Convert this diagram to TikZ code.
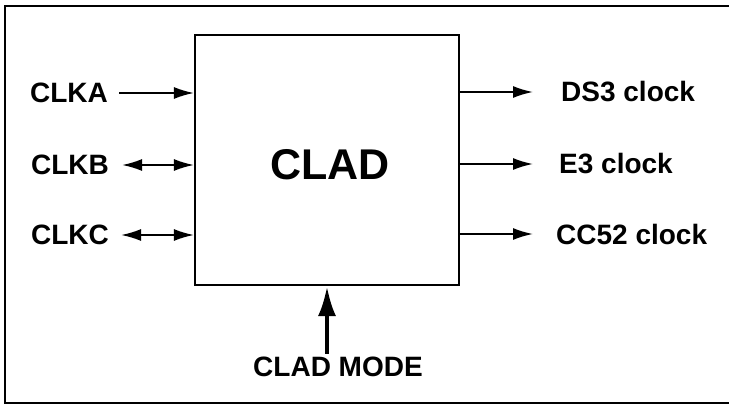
\documentclass[tikz,border=0pt]{standalone}
\usepackage{fontspec}
\setmainfont{Liberation Sans}
\usepackage{tikz}
\usetikzlibrary{arrows.meta}

\begin{document}
\begin{tikzpicture}
    [x=1pt,y=-1pt,
    frame/.style={black,line width=2.5pt},
    block/.style={draw,black,line width=2.2pt,minimum width=264pt,minimum height=250pt,inner sep=0pt},
    label/.style={font=\fontsize{28}{32}\selectfont\bfseries,inner sep=0pt},
    signal/.style={-{Latex[length=20pt,width=12pt]},black,line width=1.8pt},
    bisignal/.style={{Latex[length=20pt,width=12pt]}-{Latex[length=20pt,width=12pt]},black,line width=1.8pt},
    mode/.style={-{Latex[length=30pt,width=18pt]},black,line width=4pt}]

\useasboundingbox (0,0) rectangle (729,406);

%outer frame
\draw[frame] (729,6) -- (5,6) -- (5,403) -- (729,403);

%block
\node[block] (clad) at (327,160) {};
\node[font=\fontsize{43}{48}\selectfont\bfseries] (cladtext) at (330,165) {CLAD};

%inputs
\node[label] (clka) at (69,93) {CLKA};
\node[label] (clkb) at (70,165) {CLKB};
\node[label] (clkc) at (70,235) {CLKC};
\draw[signal] (clka.east) ++(11,0) coordinate (clkaout) -- (clkaout -| clad.west);
\draw[bisignal] (clkb.east) ++(13,0) coordinate (clkbout) -- (clkbout -| clad.west);
\draw[bisignal] (clkc.east) ++(12,0) coordinate (clkcout) -- (clkcout -| clad.west);

%outputs
\node[label,anchor=west] (ds3) at (561,92) {DS3 clock};
\node[label,anchor=west] (e3) at (559,164) {E3 clock};
\node[label,anchor=west] (cc52) at (556,234) {CC52 clock};
\draw[signal,shorten >=28pt] (clad.east |- ds3.west) -- (ds3.west);
\draw[signal,shorten >=26pt] (clad.east |- e3.west) -- (e3.west);
\draw[signal,shorten >=23pt] (clad.east |- cc52.west) -- (cc52.west);

%mode select
\node[label] (mode) at (338,367) {CLAD MODE};
\draw[mode] (mode.north -| clad.south) ++(0,-3) coordinate (modein) -- (clad.south);

\end{tikzpicture}
\end{document}
